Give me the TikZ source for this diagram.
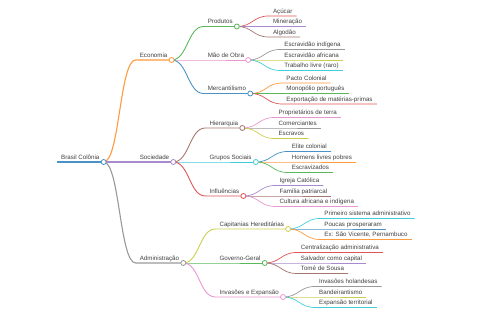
\documentclass[tikz,border=0pt]{standalone}
\usepackage{fontspec}
\setmainfont{Liberation Sans}
\usetikzlibrary{positioning, calc}

\definecolor{cblue}{HTML}{4A92C6}
\definecolor{corange}{HTML}{FF9A3E}
\definecolor{cgreen}{HTML}{5AB85A}
\definecolor{cred}{HTML}{DE5657}
\definecolor{cpurple}{HTML}{A98ACC}
\definecolor{cbrown}{HTML}{A4786F}
\definecolor{cpink}{HTML}{EA96D1}
\definecolor{cgrey}{HTML}{999999}
\definecolor{colive}{HTML}{CDCE4F}
\definecolor{ccyan}{HTML}{45CCDA}

\begin{document}
\begin{tikzpicture}[
    x=1pt, y=1pt,
    node distance=32pt,
    topic/.style={anchor=south west, inner xsep=4pt, inner ysep=0.8pt, text height=4.6pt, text depth=1.5pt, font=\fontsize{6.2}{7}\selectfont, text=black!75},
    branch/.style={to path={let \p1=(\tikztostart), \p2=(\tikztotarget) in .. controls ({(\x1+\x2)/2},\y1) and ({(\x1+\x2)/2},\y2) .. (\tikztotarget)}},
    lvl0/.style={line width=1.5pt},
    lvl1/.style={line width=1.1pt},
    lvl2/.style={line width=0.9pt},
    lvl3/.style={line width=0.7pt},
    dot/.style={fill=white, line width=0.8pt}
]
\useasboundingbox (0,0) rectangle (480,320);

% root and main branches
\node[topic] (brasil) at (57,158) {Brasil Colônia};
\node[right=of brasil.south east, topic, yshift=102pt] (econ) {Economia};
\node[right=of brasil.south east, topic] (soc) {Sociedade};
\node[right=of brasil.south east, topic, yshift=-101pt] (adm) {Administração};

% Economia
\node[right=of econ.south east, topic, yshift=33.5pt] (prod) {Produtos};
\node[right=of econ.south east, topic] (mao) {Mão de Obra};
\node[right=of econ.south east, topic, yshift=-33.5pt] (merc) {Mercantilismo};

\node[right=of prod.south east, topic, yshift=10.5pt] (acucar) {Açúcar};
\node[right=of prod.south east, topic] (miner) {Mineração};
\node[right=of prod.south east, topic, yshift=-10.5pt] (algodao) {Algodão};

\node[right=of mao.south east, topic, yshift=10.5pt] (escind) {Escravidão indígena};
\node[right=of mao.south east, topic] (escafr) {Escravidão africana};
\node[right=of mao.south east, topic, yshift=-10.5pt] (trablivre) {Trabalho livre (raro)};

\node[right=of merc.south east, topic, yshift=10.5pt] (pacto) {Pacto Colonial};
\node[right=of merc.south east, topic] (monop) {Monopólio português};
\node[right=of merc.south east, topic, yshift=-10.5pt] (export) {Exportação de matérias-primas};

% Sociedade
\node[right=of soc.south east, topic, yshift=34pt] (hier) {Hierarquia};
\node[right=of soc.south east, topic] (grupos) {Grupos Sociais};
\node[right=of soc.south east, topic, yshift=-34pt] (infl) {Influências};

\node[right=of hier.south east, topic, yshift=10.5pt] (propr) {Proprietários de terra};
\node[right=of hier.south east, topic] (comerc) {Comerciantes};
\node[right=of hier.south east, topic, yshift=-10.5pt] (escravos) {Escravos};

\node[right=of grupos.south east, topic, yshift=10.5pt] (elite) {Elite colonial};
\node[right=of grupos.south east, topic] (homens) {Homens livres pobres};
\node[right=of grupos.south east, topic, yshift=-10.5pt] (escraviz) {Escravizados};

\node[right=of infl.south east, topic, yshift=10.5pt] (igreja) {Igreja Católica};
\node[right=of infl.south east, topic] (familia) {Família patriarcal};
\node[right=of infl.south east, topic, yshift=-10.5pt] (cultura) {Cultura africana e indígena};

% Administração
\node[right=of adm.south east, topic, yshift=34pt] (capit) {Capitanias Hereditárias};
\node[right=of adm.south east, topic] (gov) {Governo-Geral};
\node[right=of adm.south east, topic, yshift=-34pt] (invexp) {Invasões e Expansão};

\node[right=of capit.south east, topic, yshift=10.5pt] (primeiro) {Primeiro sistema administrativo};
\node[right=of capit.south east, topic] (poucas) {Poucas prosperaram};
\node[right=of capit.south east, topic, yshift=-10.5pt] (exsv) {Ex: São Vicente, Pernambuco};

\node[right=of gov.south east, topic, yshift=10.5pt] (central) {Centralização administrativa};
\node[right=of gov.south east, topic] (salvador) {Salvador como capital};
\node[right=of gov.south east, topic, yshift=-10.5pt] (tome) {Tomé de Sousa};

\node[right=of invexp.south east, topic, yshift=10.5pt] (holand) {Invasões holandesas};
\node[right=of invexp.south east, topic] (bandeir) {Bandeirantismo};
\node[right=of invexp.south east, topic, yshift=-10.5pt] (expterr) {Expansão territorial};

% links and underlines
\draw[cblue, lvl0] (brasil.south west) -- (brasil.south east);
\draw[corange, lvl1] (brasil.south east) to[branch] (econ.south west) -- (econ.south east);
\draw[cpurple, lvl1] (brasil.south east) to[branch] (soc.south west) -- (soc.south east);
\draw[cgrey, lvl1] (brasil.south east) to[branch] (adm.south west) -- (adm.south east);

\draw[cgreen, lvl2] (econ.south east) to[branch] (prod.south west) -- (prod.south east);
\draw[cpink, lvl2] (econ.south east) to[branch] (mao.south west) -- (mao.south east);
\draw[cblue, lvl2] (econ.south east) to[branch] (merc.south west) -- (merc.south east);
\draw[cred, lvl3] (prod.south east) to[branch] (acucar.south west) -- (acucar.south east);
\draw[cpurple, lvl3] (prod.south east) to[branch] (miner.south west) -- (miner.south east);
\draw[cbrown, lvl3] (prod.south east) to[branch] (algodao.south west) -- (algodao.south east);
\draw[cgrey, lvl3] (mao.south east) to[branch] (escind.south west) -- (escind.south east);
\draw[colive, lvl3] (mao.south east) to[branch] (escafr.south west) -- (escafr.south east);
\draw[ccyan, lvl3] (mao.south east) to[branch] (trablivre.south west) -- (trablivre.south east);
\draw[corange, lvl3] (merc.south east) to[branch] (pacto.south west) -- (pacto.south east);
\draw[cgreen, lvl3] (merc.south east) to[branch] (monop.south west) -- (monop.south east);
\draw[cred, lvl3] (merc.south east) to[branch] (export.south west) -- (export.south east);

\draw[cbrown, lvl2] (soc.south east) to[branch] (hier.south west) -- (hier.south east);
\draw[ccyan, lvl2] (soc.south east) to[branch] (grupos.south west) -- (grupos.south east);
\draw[cred, lvl2] (soc.south east) to[branch] (infl.south west) -- (infl.south east);
\draw[cpink, lvl3] (hier.south east) to[branch] (propr.south west) -- (propr.south east);
\draw[cgrey, lvl3] (hier.south east) to[branch] (comerc.south west) -- (comerc.south east);
\draw[colive, lvl3] (hier.south east) to[branch] (escravos.south west) -- (escravos.south east);
\draw[cblue, lvl3] (grupos.south east) to[branch] (elite.south west) -- (elite.south east);
\draw[corange, lvl3] (grupos.south east) to[branch] (homens.south west) -- (homens.south east);
\draw[cgreen, lvl3] (grupos.south east) to[branch] (escraviz.south west) -- (escraviz.south east);
\draw[cpurple, lvl3] (infl.south east) to[branch] (igreja.south west) -- (igreja.south east);
\draw[cbrown, lvl3] (infl.south east) to[branch] (familia.south west) -- (familia.south east);
\draw[cpink, lvl3] (infl.south east) to[branch] (cultura.south west) -- (cultura.south east);

\draw[colive, lvl2] (adm.south east) to[branch] (capit.south west) -- (capit.south east);
\draw[cgreen, lvl2] (adm.south east) to[branch] (gov.south west) -- (gov.south east);
\draw[cpink, lvl2] (adm.south east) to[branch] (invexp.south west) -- (invexp.south east);
\draw[ccyan, lvl3] (capit.south east) to[branch] (primeiro.south west) -- (primeiro.south east);
\draw[cblue, lvl3] (capit.south east) to[branch] (poucas.south west) -- (poucas.south east);
\draw[corange, lvl3] (capit.south east) to[branch] (exsv.south west) -- (exsv.south east);
\draw[cred, lvl3] (gov.south east) to[branch] (central.south west) -- (central.south east);
\draw[cpurple, lvl3] (gov.south east) to[branch] (salvador.south west) -- (salvador.south east);
\draw[cbrown, lvl3] (gov.south east) to[branch] (tome.south west) -- (tome.south east);
\draw[cgrey, lvl3] (invexp.south east) to[branch] (holand.south west) -- (holand.south east);
\draw[colive, lvl3] (invexp.south east) to[branch] (bandeir.south west) -- (bandeir.south east);
\draw[ccyan, lvl3] (invexp.south east) to[branch] (expterr.south west) -- (expterr.south east);

% circles on inner nodes
\draw[cblue, dot] (brasil.south east) circle (2.5pt);
\draw[corange, dot] (econ.south east) circle (2.5pt);
\draw[cpurple, dot] (soc.south east) circle (2.5pt);
\draw[cgrey, dot] (adm.south east) circle (2.5pt);
\draw[cgreen, dot] (prod.south east) circle (2.5pt);
\draw[cpink, dot] (mao.south east) circle (2.5pt);
\draw[cblue, dot] (merc.south east) circle (2.5pt);
\draw[cbrown, dot] (hier.south east) circle (2.5pt);
\draw[ccyan, dot] (grupos.south east) circle (2.5pt);
\draw[cred, dot] (infl.south east) circle (2.5pt);
\draw[colive, dot] (capit.south east) circle (2.5pt);
\draw[cgreen, dot] (gov.south east) circle (2.5pt);
\draw[cpink, dot] (invexp.south east) circle (2.5pt);

\end{tikzpicture}
\end{document}
